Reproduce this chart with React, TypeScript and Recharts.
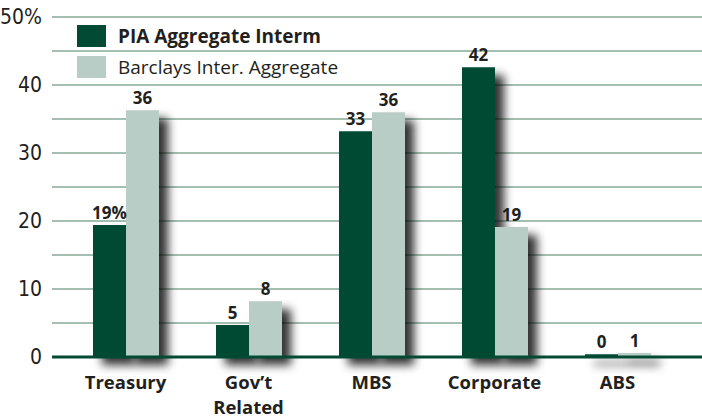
import {
  Bar,
  BarChart,
  CartesianGrid,
  LabelList,
  Legend,
  Rectangle,
  XAxis,
  YAxis,
} from "recharts";

// Sector weights: PIA portfolio vs the Barclays intermediate index.

const CATEGORIES = ["Treasury", "Gov’t\nRelated", "MBS", "Corporate", "ABS"];
const PIA = [19.4, 4.7, 33.2, 42.6, 0.4];
const BARCLAYS = [36.3, 8.2, 36.0, 19.1, 0.6];
const PIA_LABELS = ["19%", "5", "33", "42", "0"];
const BARCLAYS_LABELS = ["36", "8", "36", "19", "1"];
const Y_TICKS = [0, 5, 10, 15, 20, 25, 30, 35, 40, 45, 50];

const DARK = "#024a33";
const LIGHT = "#b8cdc6";
const INK = "#231f20";
const SANS = "'Open Sans', 'Noto Sans', sans-serif";
const NARROW = "'Liberation Sans Narrow', 'DejaVu Sans Condensed', 'Open Sans', sans-serif";

const data = CATEGORIES.map((category, i) => ({
  category,
  pia: PIA[i],
  barclays: BARCLAYS[i],
  piaLabel: PIA_LABELS[i],
  barclaysLabel: BARCLAYS_LABELS[i],
}));

function CategoryTick({ x, y, payload }: any) {
  const lines = String(payload.value).split("\n");
  return (
    <g>
      {lines.map((line, i) => (
        <text
          key={i}
          x={x}
          y={y + 24 + i * 25}
          textAnchor="middle"
          fill={INK}
          fontFamily={SANS}
          fontWeight={700}
          fontSize={18.5}
        >
          {line}
        </text>
      ))}
    </g>
  );
}

function ShadowBar(props: any) {
  return <Rectangle {...props} filter="url(#barShadow)" />;
}

function LegendBox() {
  const items = [
    { label: "PIA Aggregate Interm", color: DARK, weight: 700 },
    { label: "Barclays Inter. Aggregate", color: LIGHT, weight: 400 },
  ];
  return (
    <div>
      {items.map((it) => (
        <div key={it.label} style={{ display: "flex", alignItems: "center", height: 31 }}>
          <span style={{ width: 29, height: 22, background: it.color, marginRight: 12 }} />
          <span style={{ fontFamily: SANS, fontSize: 19, fontWeight: it.weight, color: INK }}>
            {it.label}
          </span>
        </div>
      ))}
    </div>
  );
}

export default function App() {
  return (
    <div style={{ position: "absolute", left: 0, top: 0, background: "#fff" }}>
      <BarChart
        width={702}
        height={418}
        data={data}
        margin={{ top: 17, right: 0, bottom: 0, left: 0 }}
        barGap={0}
        barSize={33}
      >
        <defs>
          <filter id="barShadow" filterUnits="userSpaceOnUse" x={0} y={0} width={702} height={418}>
            <feDropShadow dx={9} dy={8} stdDeviation={5} floodColor="#000" floodOpacity={0.8} />
          </filter>
        </defs>
        <CartesianGrid vertical={false} stroke="#87a999" strokeWidth={1.6} />
        <XAxis
          dataKey="category"
          height={61}
          padding={{ left: 12, right: 23 }}
          tick={<CategoryTick />}
          tickLine={false}
          axisLine={{ stroke: DARK, strokeWidth: 3 }}
          interval={0}
        />
        <YAxis
          width={52}
          domain={[0, 50]}
          ticks={Y_TICKS}
          interval={0}
          tickFormatter={(v: number) => (v % 10 ? "" : v === 50 ? "50%" : String(v))}
          tick={{ fontSize: 21, fill: INK, fontFamily: NARROW }}
          tickLine={false}
          axisLine={false}
          tickMargin={4}
        />
        <Legend
          layout="horizontal"
          verticalAlign="middle"
          align="center"
          wrapperStyle={{ top: 20, left: 77, width: "auto" }}
          content={<LegendBox />}
        />
        <Bar dataKey="pia" name="PIA Aggregate Interm" fill={DARK} shape={<ShadowBar />} isAnimationActive={false}>
          <LabelList
            dataKey="piaLabel"
            position="top"
            offset={6}
            style={{ fontSize: 17, fontWeight: 700, fill: INK, fontFamily: SANS }}
          />
        </Bar>
        <Bar
          dataKey="barclays"
          name="Barclays Inter. Aggregate"
          fill={LIGHT}
          shape={<ShadowBar />}
          isAnimationActive={false}
        >
          <LabelList
            dataKey="barclaysLabel"
            position="top"
            offset={6}
            style={{ fontSize: 17, fontWeight: 700, fill: INK, fontFamily: SANS }}
          />
        </Bar>
      </BarChart>
    </div>
  );
}
